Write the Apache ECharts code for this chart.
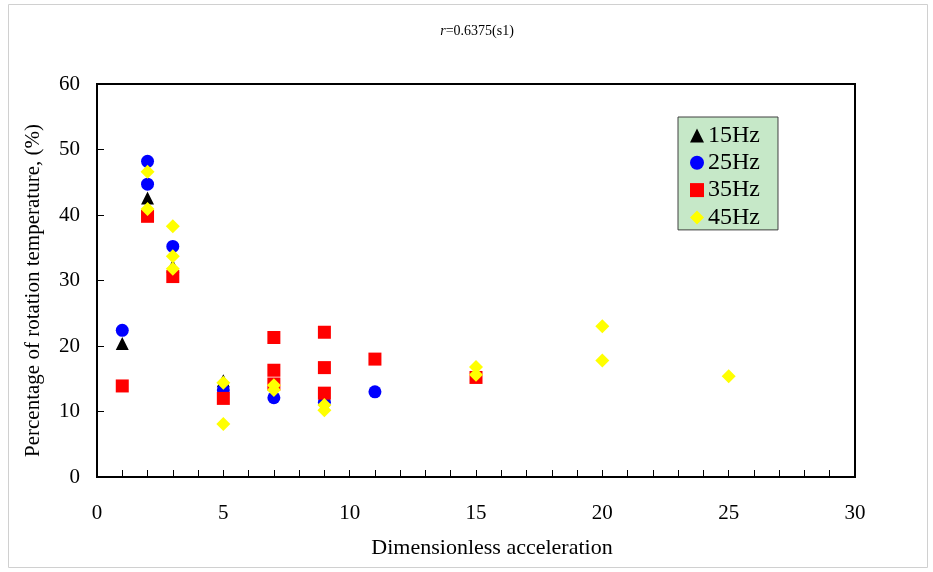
<!DOCTYPE html>
<html><head><meta charset="utf-8">
<script src="https://cdn.jsdelivr.net/npm/echarts@6/dist/echarts.min.js"></script>
<style>html,body{margin:0;padding:0;background:#fff}#c{width:933px;height:572px}</style>
</head><body><div id="c"></div>
<script>
const seriesNames = ['15Hz', '25Hz', '35Hz', '45Hz'];
const hz15 = [[1, 20.4], [2, 42.6], [3, 32.2], [5, 14.7]];
const hz25 = [[1, 22.4], [2, 48.2], [2, 44.7], [3, 35.2], [5, 13.3], [7, 12.1], [9, 11.4], [11, 13.0]];
const hz35 = [[1, 13.9], [2, 39.8], [3, 30.6], [5, 12.0], [7, 21.3], [7, 16.3], [7, 14.2], [9, 22.1], [9, 16.7], [9, 12.8], [11, 18.0], [15, 15.2]];
const hz45 = [[2, 46.6], [2, 40.9], [3, 38.3], [3, 33.7], [3, 31.8], [5, 14.4], [5, 8.1], [7, 14.0], [7, 13.3], [9, 11.0], [9, 10.2], [15, 16.8], [15, 15.6], [20, 23.0], [20, 17.8], [25, 15.4]];
const xTickLabels = [0, 5, 10, 15, 20, 25, 30];
const yTickLabels = [0, 10, 20, 30, 40, 50, 60];

const font = 'Liberation Serif';
const chart = echarts.init(document.getElementById('c'), null, {renderer: 'canvas'});
const mk = (name, data, symbol, color, size) => ({
  name, type: 'scatter', data, symbol, symbolSize: size,
  itemStyle: {color, opacity: 1}, emphasis: {disabled: true}
});
chart.setOption({
  animation: false,
  backgroundColor: '#fff',
  graphic: [{type: 'rect', shape: {x: 8.5, y: 4.5, width: 919, height: 563}, style: {fill: 'none', stroke: '#d0d0d0', lineWidth: 1}, z: -1}],
  title: {
    text: '{i|r}=0.6375(s1)', left: 472, top: 19, textAlign: 'center',
    textStyle: {fontFamily: font, fontSize: 14, fontWeight: 'normal', color: '#000',
      rich: {i: {fontFamily: font, fontSize: 14, fontStyle: 'italic', color: '#000'}}}
  },
  legend: {
    orient: 'vertical', left: 678, top: 117,
    backgroundColor: '#c6e8c8', borderColor: '#404040', borderWidth: 1,
    padding: [6, 18, 0, 12], itemGap: 2.3, itemWidth: 14, itemHeight: 14,
    textStyle: {fontFamily: font, fontSize: 24, lineHeight: 25, color: '#000', padding: [0, 0, 0, -1]},
    data: [
      {name: '15Hz', icon: 'triangle'}, {name: '25Hz', icon: 'circle'},
      {name: '35Hz', icon: 'rect'}, {name: '45Hz', icon: 'diamond'}
    ]
  },
  grid: {left: 97, right: 78, top: 84, bottom: 95, show: true, borderColor: '#000', borderWidth: 2, backgroundColor: 'transparent'},
  xAxis: {
    type: 'value', min: 0, max: 30, interval: 1,
    name: 'Dimensionless acceleration', nameLocation: 'middle', nameGap: 60,
    nameTextStyle: {fontFamily: font, fontSize: 22, color: '#000', padding: [0, 0, 0, 32]},
    axisLine: {show: true, lineStyle: {color: '#000', width: 2}},
    axisTick: {show: true, inside: true, length: 7, lineStyle: {color: '#000', width: 1}},
    axisLabel: {fontFamily: font, fontSize: 21, color: '#000', margin: 26,
      formatter: v => xTickLabels.includes(v) ? String(v) : ''},
    splitLine: {show: false}
  },
  yAxis: {
    type: 'value', min: 0, max: 60, interval: 10,
    name: 'Percentage of rotation temperature, (%)', nameLocation: 'middle', nameGap: 53,
    nameTextStyle: {fontFamily: font, fontSize: 21, color: '#000', padding: [0, 20, 0, 0]},
    axisLine: {show: true, lineStyle: {color: '#000', width: 2}},
    axisTick: {show: true, inside: true, length: 7, lineStyle: {color: '#000', width: 1}},
    axisLabel: {fontFamily: font, fontSize: 21, color: '#000', margin: 17,
      formatter: v => yTickLabels.includes(v) ? String(v) : ''},
    splitLine: {show: false}
  },
  series: [
    mk(seriesNames[0], hz15, 'triangle', '#000000', 13),
    mk(seriesNames[1], hz25, 'circle', '#0000ff', 13),
    mk(seriesNames[2], hz35, 'rect', '#ff0000', 13),
    mk(seriesNames[3], hz45, 'diamond', '#ffff00', 14)
  ]
});
</script></body></html>
